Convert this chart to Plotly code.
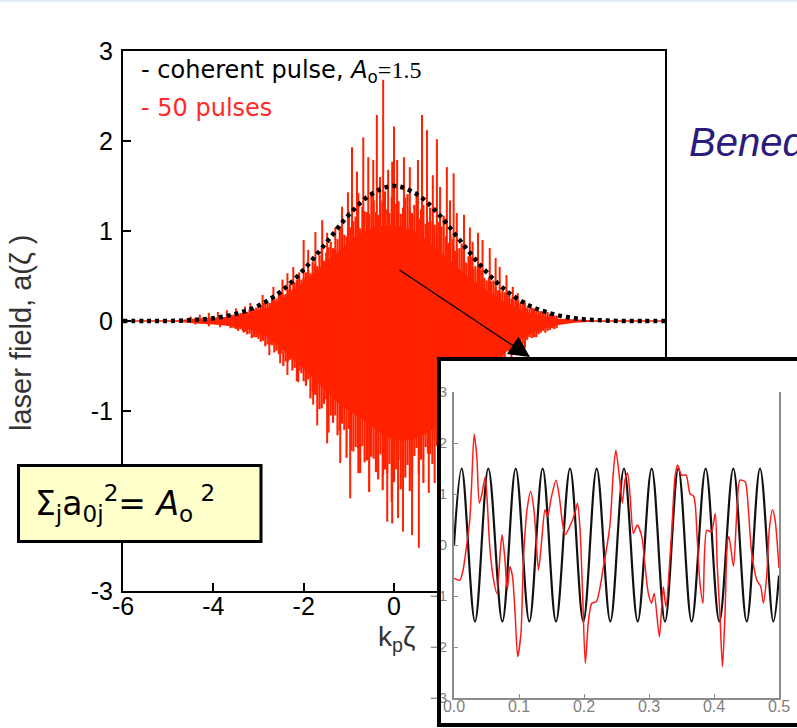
import plotly.graph_objects as go

W, H = 797, 728

# ---- main panel: coherent pulse envelope, A0 = 1.5 ----
coh_x = [-6.0, -5.5, -5.0, -4.5, -4.0, -3.5, -3.0, -2.5, -2.0, -1.5, -1.0, -0.5, 0.0,
         0.5, 1.0, 1.5, 2.0, 2.5, 3.0, 3.5, 4.0, 4.5, 5.0, 5.5, 6.0]
coh_y = [0.0, 0.0, 0.0, 0.01, 0.03, 0.08, 0.17, 0.33, 0.57, 0.87, 1.18, 1.41, 1.50,
         1.41, 1.18, 0.87, 0.57, 0.33, 0.17, 0.08, 0.03, 0.01, 0.0, 0.0, 0.0]

# ---- main panel: 50 pulses, solid core of the field ----
core_x = [-6.0, -4.8, -4.4, -4.0, -3.6, -3.2, -2.8, -2.4, -2.0, -1.6, -1.2, -0.8, -0.4, 0.0,
          0.4, 0.8, 1.2, 1.6, 2.0, 2.4, 2.8, 3.2, 3.6, 4.0, 4.4, 6.0]
core_hi = [0.0, 0.0, 0.02, 0.03, 0.04, 0.08, 0.14, 0.26, 0.42, 0.60, 0.78, 0.95, 1.04, 1.06,
           1.00, 0.86, 0.68, 0.50, 0.35, 0.22, 0.12, 0.05, 0.02, 0.01, 0.0, 0.0]
core_lo = [0.0, 0.0, -0.02, -0.03, -0.05, -0.08, -0.17, -0.33, -0.52, -0.72, -0.92, -1.05, -1.20, -1.32,
           -1.32, -1.22, -1.02, -0.80, -0.56, -0.37, -0.20, -0.09, -0.04, -0.01, 0.0, 0.0]

# ---- main panel: 50 pulses, tall isolated peaks ----
spike_up_x = [-4.5, -4.3, -4.1, -3.9, -3.7, -3.5, -3.3, -3.18, -2.91, -2.67, -2.47, -2.36, -2.23,
              -2.0, -1.9, -1.74, -1.59, -1.48, -1.30, -1.15, -1.02, -0.93, -0.82, -0.79, -0.68,
              -0.57, -0.46, -0.38, -0.31, -0.24, -0.13, -0.04, 0.0, 0.07, 0.22, 0.35, 0.53, 0.62,
              0.73, 0.86, 0.95, 1.02, 1.17, 1.24, 1.32, 1.39, 1.55, 1.68, 1.74, 1.86, 1.96, 2.12,
              2.25, 2.34, 2.49, 2.63, 2.74, 2.89, 3.07, 3.22, 3.38, 3.6]
spike_up_y = [0.05, 0.07, 0.09, 0.10, 0.12, 0.14, 0.16, 0.20, 0.29, 0.38, 0.46, 0.53, 0.60,
              0.90, 0.79, 0.99, 1.12, 0.98, 1.04, 1.27, 1.43, 1.93, 1.66, 1.42, 2.04,
              1.82, 1.79, 2.29, 1.60, 2.68, 1.68, 1.77, 2.16, 1.79, 1.82, 1.71, 1.79, 2.29,
              2.12, 1.62, 2.02, 1.49, 1.71, 1.34, 1.64, 1.20, 1.18, 1.04, 0.88, 0.98, 0.90, 0.81,
              0.70, 0.60, 0.51, 0.38, 0.31, 0.23, 0.12, 0.09, 0.05, 0.03]
spike_dn_x = [-4.4, -4.1, -3.85, -3.62, -3.33, -3.0, -2.76, -2.52, -2.36, -2.12, -1.79, -1.70,
              -1.48, -1.35, -1.19, -0.97, -0.79, -0.51, -0.24, -0.15, -0.04, 0.09, 0.20, 0.40,
              0.55, 0.77, 0.90, 1.10, 1.40, 1.70, 2.00, 2.30, 2.60, 2.90, 3.20, 3.50]
spike_dn_y = [-0.04, -0.06, -0.07, -0.08, -0.13, -0.20, -0.38, -0.47, -0.60, -0.68, -0.93, -1.16,
              -1.36, -1.01, -1.58, -1.97, -1.69, -1.49, -1.71, -2.23, -2.25, -2.19, -2.34, -2.38,
              -2.52, -1.91, -1.80, -1.90, -1.60, -1.30, -0.90, -0.70, -0.50, -0.30, -0.15, -0.06]

# ---- main panel: 50 pulses, dense fringe of smaller peaks ----
grid_a = [-3.6, -3.5, -3.4, -3.3, -3.2, -3.1, -3.0, -2.9, -2.8, -2.7, -2.6, -2.5, -2.4,
          -2.3, -2.2, -2.1, -2.0, -1.9, -1.8, -1.7, -1.6, -1.5, -1.4, -1.3, -1.2, -1.1,
          -1.0, -0.9, -0.8, -0.7, -0.6, -0.5, -0.4, -0.3, -0.2, -0.1, 0.0, 0.1, 0.2, 0.3,
          0.4, 0.5, 0.6, 0.7, 0.8, 0.9, 1.0, 1.1, 1.2, 1.3, 1.4, 1.5, 1.6, 1.7, 1.8, 1.9,
          2.0, 2.1, 2.2, 2.3, 2.4, 2.5, 2.6, 2.7, 2.8, 2.9, 3.0, 3.1, 3.2, 3.3, 3.4, 3.5, 3.6]
grid_b = [-3.55, -3.45, -3.35, -3.25, -3.15, -3.05, -2.95, -2.85, -2.75, -2.65, -2.55, -2.45,
          -2.35, -2.25, -2.15, -2.05, -1.95, -1.85, -1.75, -1.65, -1.55, -1.45, -1.35, -1.25,
          -1.15, -1.05, -0.95, -0.85, -0.75, -0.65, -0.55, -0.45, -0.35, -0.25, -0.15, -0.05,
          0.05, 0.15, 0.25, 0.35, 0.45, 0.55, 0.65, 0.75, 0.85, 0.95, 1.05, 1.15,
          1.25, 1.35, 1.45, 1.55, 1.65, 1.75, 1.85, 1.95, 2.05, 2.15, 2.25, 2.35,
          2.45, 2.55, 2.65, 2.75, 2.85, 2.95, 3.05, 3.15, 3.25, 3.35, 3.45, 3.55]
fringe_up_a = [0.07, 0.07, 0.09, 0.09, 0.13, 0.13, 0.14, 0.20, 0.20, 0.27,
               0.25, 0.31, 0.30, 0.41, 0.43, 0.54, 0.48, 0.56, 0.66, 0.61,
               0.81, 0.76, 0.88, 0.80, 1.05, 0.96, 1.22, 1.11, 1.05, 1.27,
               1.21, 1.43, 1.21, 1.35, 1.44, 1.20, 1.50, 1.33, 1.26, 1.41,
               1.20, 1.44, 1.24, 1.08, 1.26, 1.07, 1.10, 1.17, 0.87, 0.91,
               0.80, 0.86, 0.65, 0.71, 0.61, 0.64, 0.48, 0.48, 0.45, 0.34,
               0.34, 0.34, 0.25, 0.24, 0.20, 0.20, 0.14, 0.14, 0.11, 0.10,
               0.10, 0.07, 0.06]
fringe_up_b = [0.07, 0.07, 0.09, 0.10, 0.11, 0.15, 0.16, 0.20, 0.20, 0.24,
               0.29, 0.29, 0.35, 0.35, 0.46, 0.46, 0.54, 0.53, 0.63, 0.73,
               0.67, 0.82, 0.81, 0.91, 1.04, 0.94, 1.04, 1.16, 1.03, 1.22,
               1.19, 1.34, 1.18, 1.32, 1.24, 1.38, 1.30, 1.19, 1.37, 1.24,
               1.29, 1.14, 1.29, 1.10, 1.11, 0.95, 1.05, 0.94, 0.96, 0.78,
               0.81, 0.71, 0.72, 0.58, 0.57, 0.56, 0.45, 0.44, 0.38, 0.31,
               0.32, 0.28, 0.23, 0.23, 0.18, 0.15, 0.15, 0.12, 0.11, 0.08,
               0.08, 0.06]
fringe_dn_a = [-0.07, -0.09, -0.09, -0.12, -0.14, -0.18, -0.18, -0.22, -0.26, -0.27,
               -0.33, -0.36, -0.45, -0.43, -0.52, -0.55, -0.67, -0.65, -0.78, -0.82,
               -0.97, -0.87, -1.05, -1.05, -1.22, -1.21, -1.20, -1.45, -1.41, -1.39,
               -1.55, -1.51, -1.68, -1.48, -1.65, -1.59, -1.79, -1.54, -1.69, -1.60,
               -1.69, -1.41, -1.54, -1.40, -1.48, -1.33, -1.20, -1.32, -1.17, -1.04,
               -1.06, -0.93, -0.94, -0.76, -0.76, -0.67, -0.68, -0.53, -0.53, -0.46,
               -0.44, -0.33, -0.33, -0.27, -0.26, -0.21, -0.18, -0.18, -0.14, -0.11,
               -0.11, -0.08, -0.08]
fringe_dn_b = [-0.08, -0.11, -0.11, -0.15, -0.19, -0.18, -0.23, -0.28, -0.26, -0.35,
               -0.37, -0.50, -0.45, -0.55, -0.67, -0.58, -0.72, -0.86, -0.82, -0.98,
               -0.92, -1.24, -1.13, -1.27, -1.14, -1.52, -1.44, -1.40, -1.69, -1.57,
               -1.90, -1.53, -1.76, -1.88, -1.69, -2.01, -1.65, -1.87, -1.74, -1.89,
               -1.50, -1.70, -1.80, -1.47, -1.59, -1.39, -1.59, -1.18, -1.28, -1.16,
               -1.19, -0.96, -0.99, -0.76, -0.89, -0.70, -0.67, -0.54, -0.57, -0.47,
               -0.47, -0.34, -0.35, -0.28, -0.29, -0.21, -0.19, -0.18, -0.13, -0.13,
               -0.10, -0.09]

main_xticks = [-6, -4, -2, 0, 2, 4, 6]
main_xlabels = ["-6", "-4", "-2", "0", "2", "4", "6"]
main_yticks = [-3, -2, -1, 0, 1, 2, 3]
main_ylabels = ["-3", "", "-1", "0", "1", "2", "3"]

# ---- inset: zoom on 0 < k_p zeta < 0.5 ----
inset_coh_x = [0.0, 0.0118, 0.0323, 0.0528, 0.0744, 0.0949, 0.1159, 0.1364, 0.1569, 0.1785,
               0.1990, 0.2195, 0.2405, 0.2615, 0.2826, 0.3041, 0.3246, 0.3451, 0.3656, 0.3872,
               0.4082, 0.4297, 0.4503, 0.4708, 0.4913, 0.5]
inset_coh_y = [0.0, 1.5, -1.5, 1.5, -1.5, 1.5, -1.5, 1.5, -1.5, 1.5,
               -1.5, 1.5, -1.5, 1.5, -1.5, 1.5, -1.5, 1.5, -1.5, 1.5,
               -1.5, 1.5, -1.5, 1.5, -1.5, -0.6]
inset_sum_x = [0.000, 0.009, 0.014, 0.019, 0.024, 0.027, 0.031, 0.035, 0.039, 0.043, 0.048, 0.051,
               0.055, 0.061, 0.066, 0.071, 0.074, 0.078, 0.082, 0.086, 0.090, 0.094, 0.098, 0.103,
               0.107, 0.113, 0.118, 0.123, 0.126, 0.130, 0.135, 0.140, 0.144, 0.150, 0.157, 0.162,
               0.167, 0.171, 0.178, 0.186, 0.190, 0.194, 0.198, 0.202, 0.207, 0.212, 0.219, 0.230,
               0.240, 0.245, 0.249, 0.255, 0.259, 0.263, 0.267, 0.271, 0.276, 0.282, 0.289, 0.294,
               0.299, 0.304, 0.308, 0.316, 0.322, 0.326, 0.335, 0.340, 0.344, 0.350, 0.357, 0.363,
               0.369, 0.374, 0.378, 0.383, 0.389, 0.396, 0.402, 0.405, 0.409, 0.413, 0.417, 0.421,
               0.423, 0.430, 0.435, 0.440, 0.448, 0.451, 0.458, 0.466, 0.472, 0.476, 0.481, 0.485,
               0.490, 0.494, 0.500]
inset_sum_y = [-0.65, -0.69, -0.49, -0.05, 0.45, 1.15, 2.17, 1.75, 0.82, 1.01, 1.34, 0.88,
               -0.03, -0.69, -0.95, -0.16, 0.20, -0.23, -0.88, -0.42, -0.62, -1.34, -2.19, -1.73,
               -0.23, 0.75, 1.05, 0.69, 0.16, -0.49, 0.10, 0.69, 0.56, 0.95, 1.27, 0.95,
               0.42, 0.20, 0.36, 0.62, 0.82, 0.29, -1.01, -2.32, -1.47, -1.14, -1.11, -0.42,
               0.40, 1.41, 1.86, 1.27, 0.82, 1.27, 1.41, 0.95, 0.23, 0.39, 0.16, -0.42,
               -0.95, -1.14, -0.95, -1.80, -0.82, -1.21, 0.29, 1.34, 1.57, 1.37, 1.37, 1.01,
               0.95, 0.16, -0.69, -1.14, 0.29, 0.26, 0.62, -0.42, -1.34, -2.39, -1.34, 0.10,
               0.16, -0.42, 0.62, 1.27, 1.24, 1.01, -0.16, -0.69, -0.82, -1.14, -0.62, 0.29,
               0.69, 0.49, -0.45]
inset_xticks = [0.0, 0.1, 0.2, 0.3, 0.4, 0.5]
inset_xlabels = ["0.0", "0.1", "0.2", "0.3", "0.4", "0.5"]
inset_yticks = [-3, -2, -1, 0, 1, 2, 3]

RED = "#ff2200"
SANS = "Liberation Sans, Arial, sans-serif"
CASUAL = "Comic Sans MS, DejaVu Sans, sans-serif"


def px(x):
    return x / W


def py(y):
    return 1 - y / H


def stems(xs, ys):
    """Vertical segments from zero up/down to each peak value."""
    sx, sy = [], []
    for xv, yv in zip(xs, ys):
        sx += [xv, xv, None]
        sy += [0, yv, None]
    return sx, sy


fig = go.Figure()

# core of the 50-pulse field as a filled band
fig.add_trace(go.Scatter(
    x=core_x + core_x[::-1], y=core_hi + core_lo[::-1],
    fill="toself", fillcolor=RED, mode="lines",
    line=dict(color=RED, width=1.5), hoverinfo="skip", showlegend=False,
    xaxis="x", yaxis="y"))

# fringe and isolated peaks of the 50-pulse field
fx, fy = stems(grid_a + grid_b + grid_b + grid_a,
               fringe_up_a + fringe_up_b + fringe_dn_b + fringe_dn_a)
fig.add_trace(go.Scatter(
    x=fx, y=fy, mode="lines", line=dict(color=RED, width=2.2),
    hoverinfo="skip", showlegend=False, xaxis="x", yaxis="y"))
sx, sy = stems(spike_up_x + spike_dn_x, spike_up_y + spike_dn_y)
fig.add_trace(go.Scatter(
    x=sx, y=sy, mode="lines", line=dict(color=RED, width=2),
    hoverinfo="skip", showlegend=False, xaxis="x", yaxis="y"))

# coherent pulse envelope, dotted
fig.add_trace(go.Scatter(
    x=coh_x, y=coh_y, mode="lines",
    line=dict(color="black", width=4.5, dash="4px,4px", shape="spline"),
    hoverinfo="skip", showlegend=False, xaxis="x", yaxis="y"))

# white panel behind the inset
fig.add_trace(go.Scatter(
    x=[0.5], y=[0.5], mode="markers", marker=dict(opacity=0),
    hoverinfo="skip", showlegend=False, xaxis="x2", yaxis="y2"))

# inset curves
fig.add_trace(go.Scatter(
    x=inset_coh_x, y=inset_coh_y, mode="lines",
    line=dict(color="#111111", width=2.2, shape="spline", smoothing=1.0),
    hoverinfo="skip", showlegend=False, xaxis="x3", yaxis="y3"))
fig.add_trace(go.Scatter(
    x=inset_sum_x, y=inset_sum_y, mode="lines",
    line=dict(color="#ff1a1a", width=1.5, shape="spline", smoothing=0.7),
    hoverinfo="skip", showlegend=False, xaxis="x3", yaxis="y3"))

main_axis = dict(showgrid=False, zeroline=False, showline=True, linewidth=2, linecolor="black",
                 mirror=True, ticks="inside", ticklen=8, tickwidth=2, tickcolor="black",
                 automargin=False, tickfont=dict(family=SANS, size=25, color="black"))

fig.update_layout(
    width=W, height=H, margin=dict(l=0, r=0, t=0, b=0, autoexpand=False),
    paper_bgcolor="white", plot_bgcolor="#ffffff",
    xaxis=dict(domain=[px(123), px(665)], range=[-6, 6], tickvals=main_xticks,
               ticktext=main_xlabels, anchor="y", ticklabelstandoff=-8, **main_axis),
    yaxis=dict(domain=[py(591), py(51)], range=[-3, 3], tickvals=main_yticks,
               ticktext=main_ylabels, anchor="x", ticklabelstandoff=3, **main_axis),
    xaxis2=dict(domain=[px(437), 1.0], range=[0, 1], visible=False, anchor="y2"),
    yaxis2=dict(domain=[0.0, py(357)], range=[0, 1], visible=False, anchor="x2"),
    xaxis3=dict(domain=[px(454), px(779)], range=[0, 0.5], tickvals=inset_xticks,
                ticktext=inset_xlabels, anchor="y3", showgrid=False, zeroline=False,
                showline=True, linewidth=1.5, linecolor="#8c8c8c", ticks="inside",
                ticklen=4, tickcolor="#8c8c8c", automargin=False,
                tickfont=dict(family=SANS, size=16, color="#808080"), ticklabelstandoff=-7),
    yaxis3=dict(domain=[py(698), py(392)], range=[-3, 3], tickvals=inset_yticks,
                anchor="x3", showgrid=False, zeroline=False, showline=True, mirror=True,
                linewidth=2, linecolor="#8c8c8c", ticks="inside", ticklen=4,
                tickcolor="#8c8c8c", tickfont=dict(family=SANS, size=15, color="#808080"),
                ticklabelstandoff=2, automargin=False),
    shapes=[
        # slide edge
        dict(type="line", xref="paper", yref="paper", x0=0, x1=1, y0=py(0.8), y1=py(0.8),
             line=dict(color="#e2eaf4", width=2), layer="above"),
        # inset frame
        dict(type="rect", xref="paper", yref="paper", x0=px(439), x1=px(812),
             y0=py(725), y1=py(359), line=dict(color="black", width=4), layer="above"),
        # formula box
        dict(type="rect", xref="paper", yref="paper", x0=px(18.5), x1=px(261),
             y0=py(541.5), y1=py(465.5), line=dict(color="black", width=3),
             fillcolor="#ffffcc", layer="above"),
    ],
    annotations=[
        dict(xref="paper", yref="paper", x=px(139), y=py(72), xanchor="left", yanchor="middle",
             showarrow=False,
             text="- coherent pulse, <i>A</i><sub>o</sub><span style=\"font-family:Liberation Serif\">=1.5</span>",
             font=dict(family=CASUAL, size=24, color="black")),
        dict(xref="paper", yref="paper", x=px(139), y=py(108), xanchor="left", yanchor="middle",
             showarrow=False, text="- 50 pulses",
             font=dict(family=CASUAL, size=24, color="#ff2a2a")),
        dict(xref="paper", yref="paper", x=px(396), y=py(638), xanchor="center", yanchor="middle",
             showarrow=False, text="k<sub>p</sub>ζ",
             font=dict(family=SANS, size=28, color="#333333")),
        dict(xref="paper", yref="paper", x=px(21), y=py(333), xanchor="center", yanchor="middle",
             showarrow=False, text="laser field, a(ζ )", textangle=-90,
             font=dict(family=SANS, size=29, color="#333333")),
        dict(xref="paper", yref="paper", x=px(687), y=py(142), xanchor="left", yanchor="middle",
             showarrow=False, text="<i>Benedetti</i>",
             font=dict(family=SANS, size=40, color="#2b1b7c")),
        dict(xref="paper", yref="paper", x=px(33), y=py(503), xanchor="left", yanchor="middle",
             showarrow=False,
             text="Σ<sub>j</sub>a<sub>0j</sub><sup>2</sup>= <i>A</i><sub>o</sub><sup> 2</sup>",
             font=dict(family=CASUAL, size=33, color="black")),
        # arrow pointing from the pulse centre to the inset
        dict(xref="paper", yref="paper", x=px(530), y=py(357), ax=-132, ay=-88,
             text="", showarrow=True, arrowhead=2, arrowsize=3.2, arrowwidth=1.3,
             arrowcolor="black"),
    ],
)

fig.write_html("out.html")
